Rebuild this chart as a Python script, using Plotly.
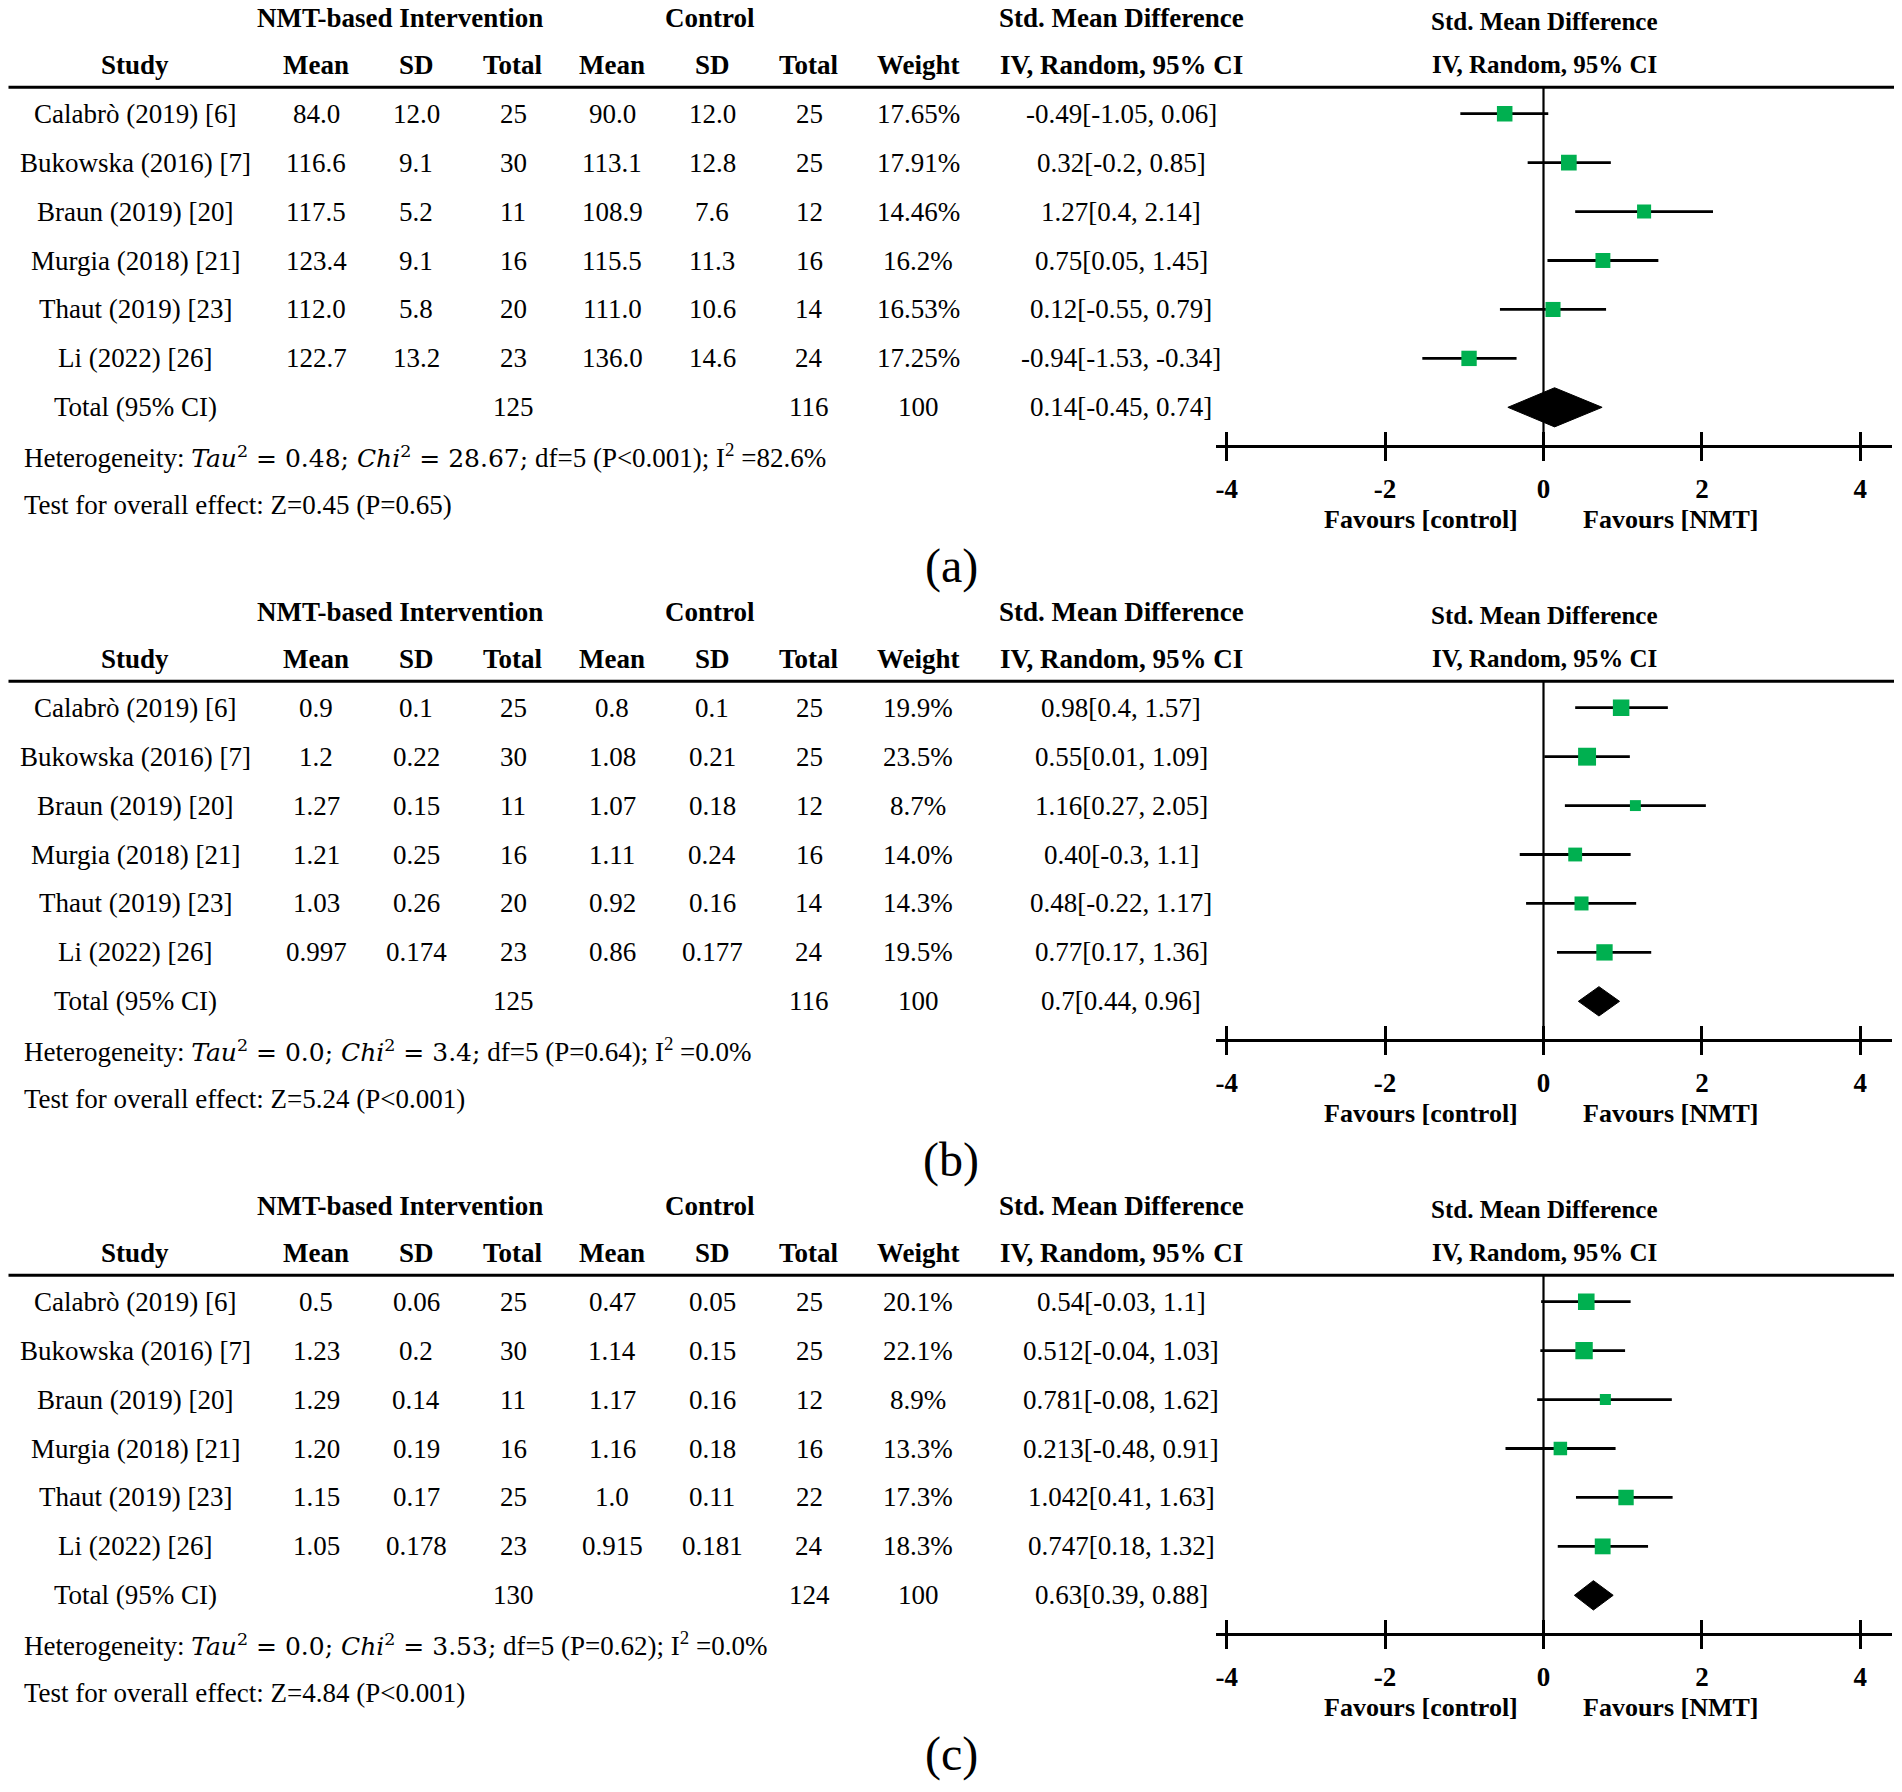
import math

import plotly.graph_objects as go

# %% Data
studies = ["Calabrò (2019) [6]", "Bukowska (2016) [7]", "Braun (2019) [20]",
           "Murgia (2018) [21]", "Thaut (2019) [23]", "Li (2022) [26]"]
panel_tags = ["(a)", "(b)", "(c)"]

# panel (a)
a_nmt_mean = ["84.0", "116.6", "117.5", "123.4", "112.0", "122.7"]
a_nmt_sd = ["12.0", "9.1", "5.2", "9.1", "5.8", "13.2"]
a_nmt_n = [25, 30, 11, 16, 20, 23]
a_ctl_mean = ["90.0", "113.1", "108.9", "115.5", "111.0", "136.0"]
a_ctl_sd = ["12.0", "12.8", "7.6", "11.3", "10.6", "14.6"]
a_ctl_n = [25, 25, 12, 16, 14, 24]
a_weight = ["17.65%", "17.91%", "14.46%", "16.2%", "16.53%", "17.25%"]
a_est = ["-0.49", "0.32", "1.27", "0.75", "0.12", "-0.94"]
a_lo = ["-1.05", "-0.2", "0.4", "0.05", "-0.55", "-1.53"]
a_hi = ["0.06", "0.85", "2.14", "1.45", "0.79", "-0.34"]
a_total = [125, 116, "100", "0.14", "-0.45", "0.74"]
a_het = ["0.48", "28.67", "5", "P<0.001", "82.6%"]
a_z = "Z=0.45 (P=0.65)"

# panel (b)
b_nmt_mean = ["0.9", "1.2", "1.27", "1.21", "1.03", "0.997"]
b_nmt_sd = ["0.1", "0.22", "0.15", "0.25", "0.26", "0.174"]
b_nmt_n = [25, 30, 11, 16, 20, 23]
b_ctl_mean = ["0.8", "1.08", "1.07", "1.11", "0.92", "0.86"]
b_ctl_sd = ["0.1", "0.21", "0.18", "0.24", "0.16", "0.177"]
b_ctl_n = [25, 25, 12, 16, 14, 24]
b_weight = ["19.9%", "23.5%", "8.7%", "14.0%", "14.3%", "19.5%"]
b_est = ["0.98", "0.55", "1.16", "0.40", "0.48", "0.77"]
b_lo = ["0.4", "0.01", "0.27", "-0.3", "-0.22", "0.17"]
b_hi = ["1.57", "1.09", "2.05", "1.1", "1.17", "1.36"]
b_total = [125, 116, "100", "0.7", "0.44", "0.96"]
b_het = ["0.0", "3.4", "5", "P=0.64", "0.0%"]
b_z = "Z=5.24 (P<0.001)"

# panel (c)
c_nmt_mean = ["0.5", "1.23", "1.29", "1.20", "1.15", "1.05"]
c_nmt_sd = ["0.06", "0.2", "0.14", "0.19", "0.17", "0.178"]
c_nmt_n = [25, 30, 11, 16, 25, 23]
c_ctl_mean = ["0.47", "1.14", "1.17", "1.16", "1.0", "0.915"]
c_ctl_sd = ["0.05", "0.15", "0.16", "0.18", "0.11", "0.181"]
c_ctl_n = [25, 25, 12, 16, 22, 24]
c_weight = ["20.1%", "22.1%", "8.9%", "13.3%", "17.3%", "18.3%"]
c_est = ["0.54", "0.512", "0.781", "0.213", "1.042", "0.747"]
c_lo = ["-0.03", "-0.04", "-0.08", "-0.48", "0.41", "0.18"]
c_hi = ["1.1", "1.03", "1.62", "0.91", "1.63", "1.32"]
c_total = [130, 124, "100", "0.63", "0.39", "0.88"]
c_het = ["0.0", "3.53", "5", "P=0.62", "0.0%"]
c_z = "Z=4.84 (P<0.001)"

x_ticks = [-4, -2, 0, 2, 4]

panels = [
    (a_nmt_mean, a_nmt_sd, a_nmt_n, a_ctl_mean, a_ctl_sd, a_ctl_n, a_weight,
     a_est, a_lo, a_hi, a_total, a_het, a_z),
    (b_nmt_mean, b_nmt_sd, b_nmt_n, b_ctl_mean, b_ctl_sd, b_ctl_n, b_weight,
     b_est, b_lo, b_hi, b_total, b_het, b_z),
    (c_nmt_mean, c_nmt_sd, c_nmt_n, c_ctl_mean, c_ctl_sd, c_ctl_n, c_weight,
     c_est, c_lo, c_hi, c_total, c_het, c_z),
]

# %% Layout constants (page pixels; the page body adds an 8px margin)
OFF = 8
W, H = 1902 - 2 * OFF, 1792 - 2 * OFF
FONT = "Liberation Serif"
MATH_FONT = "DejaVu Serif"
GREEN = "#00B050"
PANEL_PX = 594
TOP_LINE_PX = 87.3
AXIS_PX = 445
Y_RANGE = [6.77, -0.54]
X_RANGE = [-4.14, 4.40]
DIAMOND_HALF = [0.40, 0.30, 0.30]

col_x = dict(study=135, nm=316, nsd=416, nn=513, cm=612, csd=712, cn=809,
             wt=918, ci=1121, forest=1544, fav_c=1421, fav_n=1670, tag=951)


def px(x):
    return (x - OFF) / W


def py(y):
    return 1 - (y - OFF) / H


def ydom(row):
    # row position -> fraction of the panel's y domain (reversed axis)
    return (Y_RANGE[0] - row) / (Y_RANGE[0] - Y_RANGE[1])


def sfx(i):
    return "" if i == 1 else str(i)


def math_span(s):
    return f"<span style=\"font-family:'{MATH_FONT}'; font-size:25px\">{s}</span>"


X_DOMAIN = [px(1215.6), px(1892)]

fig = go.Figure()
annotations = []
shapes = []
layout_axes = {}


def add_text(text, x, row, ya, size=27, bold=False, anchor="center"):
    annotations.append(dict(
        text=text, x=px(x), y=ydom(row), xref="paper", yref=f"{ya} domain",
        xanchor=anchor, yanchor="middle", showarrow=False,
        font=dict(family=FONT, size=size, color="black",
                  weight="bold" if bold else "normal")))


for p, data in enumerate(panels):
    (nm, nsd, nn, cm, csd, cn, wt, est, lo, hi, total, het, z) = data
    i = p + 1
    xa, ya = f"x{sfx(i)}", f"y{sfx(i)}"
    ov = f"x{i + 3}"
    top = py(TOP_LINE_PX + PANEL_PX * p)
    bot = py(AXIS_PX + PANEL_PX * p)

    est_f = [float(v) for v in est]
    lo_f = [float(v) for v in lo]
    hi_f = [float(v) for v in hi]
    wt_f = [float(v.rstrip("%")) for v in wt]
    rows = list(range(len(studies)))
    n_rows = len(studies)

    # confidence interval whiskers
    cx, cy = [], []
    for r in rows:
        cx += [lo_f[r], hi_f[r], None]
        cy += [r, r, None]
    fig.add_trace(go.Scatter(x=cx, y=cy, mode="lines", xaxis=xa, yaxis=ya,
                             line=dict(color="black", width=2.8),
                             hoverinfo="skip", showlegend=False))
    # study squares, area follows the weight
    fig.add_trace(go.Scatter(
        x=est_f, y=rows, mode="markers", xaxis=xa, yaxis=ya,
        marker=dict(symbol="square", color=GREEN, opacity=1,
                    size=[3.7 * math.sqrt(w) for w in wt_f],
                    line=dict(width=0)),
        showlegend=False))
    # pooled diamond
    t_est, t_lo, t_hi = (float(v) for v in total[3:6])
    h = DIAMOND_HALF[p]
    fig.add_trace(go.Scatter(
        x=[t_lo, t_est, t_hi, t_est, t_lo],
        y=[n_rows, n_rows - h, n_rows, n_rows + h, n_rows],
        mode="lines", fill="toself", fillcolor="black",
        line=dict(color="black", width=1), xaxis=xa, yaxis=ya,
        hoverinfo="skip", showlegend=False))
    # empty trace on the overlay axis (inside half of the crossing ticks)
    fig.add_trace(go.Scatter(x=[None], y=[None], xaxis=ov, yaxis=ya,
                             showlegend=False, hoverinfo="skip"))

    layout_axes[f"xaxis{sfx(i)}"] = dict(
        domain=X_DOMAIN, range=X_RANGE, anchor=ya, tickvals=x_ticks,
        ticktext=[str(v) for v in x_ticks], ticks="outside", ticklen=13,
        tickwidth=2.5, tickcolor="black", showline=True, linewidth=3,
        linecolor="black", showgrid=False, zeroline=False,
        ticklabelstandoff=5,
        tickfont=dict(family=FONT, size=27, color="black", weight="bold"))
    layout_axes[f"xaxis{i + 3}"] = dict(
        domain=X_DOMAIN, range=X_RANGE, anchor=ya, overlaying=xa,
        tickvals=x_ticks, ticks="inside", ticklen=13, tickwidth=2.5,
        tickcolor="black", showticklabels=False, showline=False,
        showgrid=False, zeroline=False)
    layout_axes[f"yaxis{sfx(i)}"] = dict(domain=[bot, top], range=Y_RANGE,
                                         anchor=xa, visible=False)

    # header rule and zero line
    shapes.append(dict(type="line", xref="paper", yref=f"{ya} domain",
                       x0=px(8.5), x1=px(1894), y0=1, y1=1,
                       line=dict(color="black", width=3)))
    shapes.append(dict(type="line", xref=xa, yref=f"{ya} domain",
                       x0=0, x1=0, y0=0, y1=1,
                       line=dict(color="black", width=2.2)))

    # table headers
    add_text("NMT-based Intervention", 400, -1.95, ya, bold=True)
    add_text("Control", 710, -1.95, ya, bold=True)
    add_text("Std. Mean Difference", col_x["ci"], -1.95, ya, bold=True)
    for key, lab in [("study", "Study"), ("nm", "Mean"), ("nsd", "SD"),
                     ("nn", "Total"), ("cm", "Mean"), ("csd", "SD"),
                     ("cn", "Total"), ("wt", "Weight"),
                     ("ci", "IV, Random, 95% CI")]:
        add_text(lab, col_x[key], -1.0, ya, bold=True)
    add_text("Std. Mean Difference", col_x["forest"], -1.88, ya, size=25,
             bold=True)
    add_text("IV, Random, 95% CI", col_x["forest"], -1.0, ya, size=25,
             bold=True)

    # table body
    for r in rows:
        vals = [studies[r], nm[r], nsd[r], nn[r], cm[r], csd[r], cn[r], wt[r],
                f"{est[r]}[{lo[r]}, {hi[r]}]"]
        for key, v in zip(["study", "nm", "nsd", "nn", "cm", "csd", "cn",
                           "wt", "ci"], vals):
            add_text(str(v), col_x[key], r, ya)
    add_text("Total (95% CI)", col_x["study"], n_rows, ya)
    add_text(str(total[0]), col_x["nn"], n_rows, ya)
    add_text(str(total[1]), col_x["cn"], n_rows, ya)
    add_text(total[2], col_x["wt"], n_rows, ya)
    add_text(f"{total[3]}[{total[4]}, {total[5]}]", col_x["ci"], n_rows, ya)

    tau, chi, df, pv, i2 = het
    het_math = math_span(f"<i>Tau</i><sup>2</sup> = {tau}; "
                         f"<i>Chi</i><sup>2</sup> = {chi};")
    add_text(f"Heterogeneity: {het_math} df={df} ({pv}); "
             f"I<sup>2</sup> ={i2}", 22, n_rows + 1, ya, anchor="left")
    add_text(f"Test for overall effect: {z}", 22, n_rows + 2, ya,
             anchor="left")

    add_text("Favours [control]", col_x["fav_c"], 8.3, ya, size=26, bold=True)
    add_text("Favours [NMT]", col_x["fav_n"], 8.3, ya, size=26, bold=True)
    add_text(panel_tags[p], col_x["tag"], 9.24, ya, size=48)

fig.update_layout(
    width=W, height=H, margin=dict(l=0, r=0, t=0, b=0),
    paper_bgcolor="white", plot_bgcolor="white", showlegend=False,
    annotations=annotations, shapes=shapes, **layout_axes)

fig.write_html("out.html")
